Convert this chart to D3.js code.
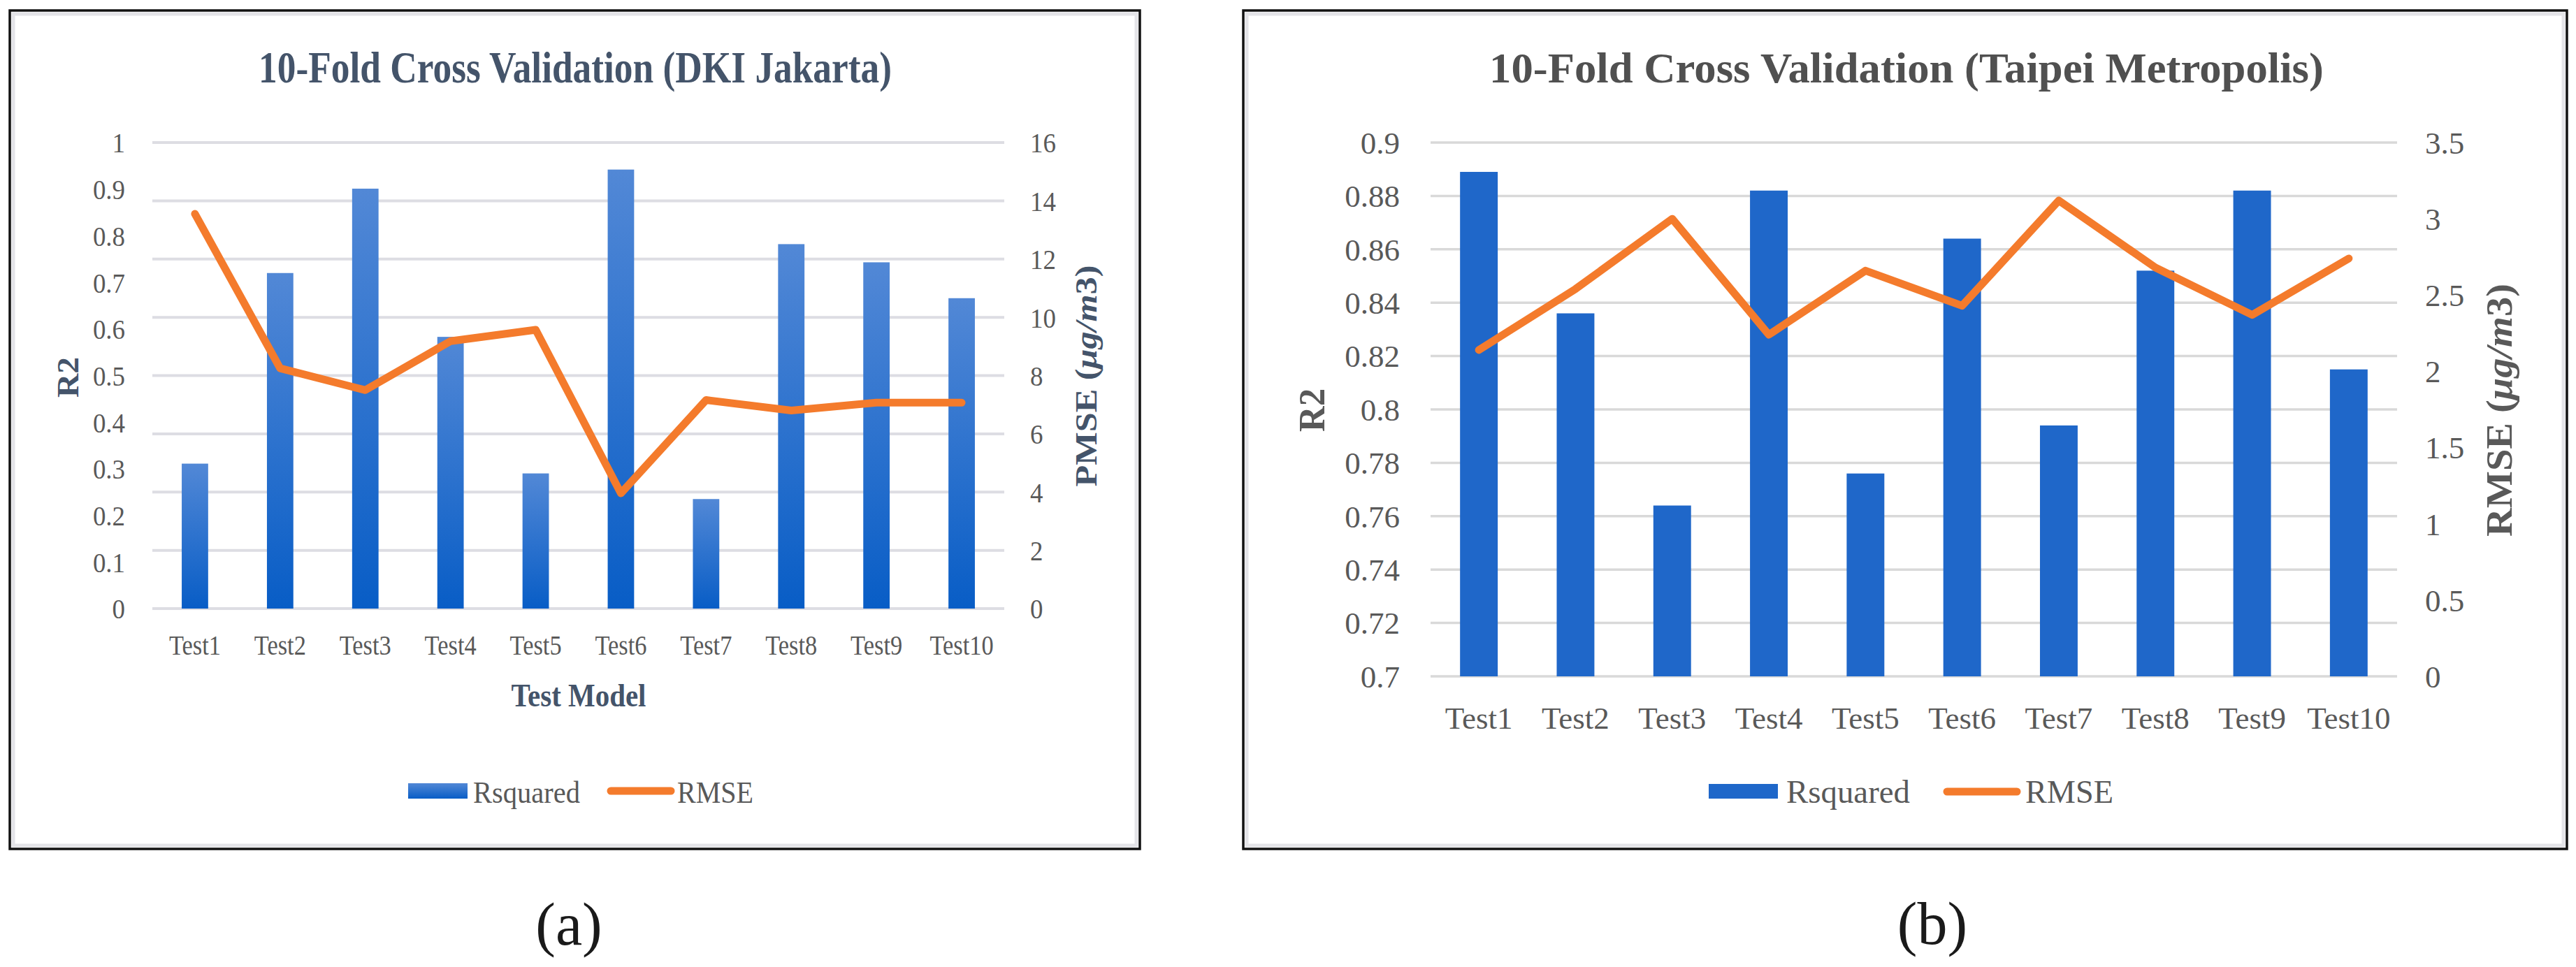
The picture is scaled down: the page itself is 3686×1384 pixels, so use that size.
<!DOCTYPE html>
<html>
<head>
<meta charset="utf-8">
<script src="https://cdn.jsdelivr.net/npm/d3@7"></script>
<style>
  body { margin: 0; background: #fff; }
  text { font-family: "Liberation Serif", "Times New Roman", serif; }
</style>
</head>
<body>
<script>
// ---- data ----
const categories = ['Test1','Test2','Test3','Test4','Test5','Test6','Test7','Test8','Test9','Test10'];

const jakartaR2   = [0.311, 0.720, 0.901, 0.583, 0.290, 0.942, 0.235, 0.782, 0.743, 0.666];
const jakartaRmse = [13.55, 8.25, 7.50, 9.18, 9.57, 3.96, 7.16, 6.80, 7.07, 7.07];
const jakartaR2Ticks   = [0, 0.1, 0.2, 0.3, 0.4, 0.5, 0.6, 0.7, 0.8, 0.9, 1];
const jakartaR2Labels  = ['0','0.1','0.2','0.3','0.4','0.5','0.6','0.7','0.8','0.9','1'];
const jakartaRmseTicks  = [0, 2, 4, 6, 8, 10, 12, 14, 16];
const jakartaRmseLabels = ['0','2','4','6','8','10','12','14','16'];

const taipeiR2   = [0.889, 0.836, 0.764, 0.882, 0.776, 0.864, 0.794, 0.852, 0.882, 0.815];
const taipeiRmse = [2.14, 2.54, 3.00, 2.24, 2.66, 2.43, 3.12, 2.68, 2.37, 2.74];
const taipeiR2Ticks   = [0.7, 0.72, 0.74, 0.76, 0.78, 0.8, 0.82, 0.84, 0.86, 0.88, 0.9];
const taipeiR2Labels  = ['0.7','0.72','0.74','0.76','0.78','0.8','0.82','0.84','0.86','0.88','0.9'];
const taipeiRmseTicks  = [0, 0.5, 1, 1.5, 2, 2.5, 3, 3.5];
const taipeiRmseLabels = ['0','0.5','1','1.5','2','2.5','3','3.5'];

const W = 3686, H = 1384;
const ORANGE = '#f47b2c';

const svg = d3.select('body').append('svg')
    .attr('width', W).attr('height', H)
    .attr('viewBox', `0 0 ${W} ${H}`);

const defs = svg.append('defs');
const grad = defs.append('linearGradient')
    .attr('id', 'barGrad').attr('x1', 0).attr('y1', 0).attr('x2', 0).attr('y2', 1);
grad.append('stop').attr('offset', '0%').attr('stop-color', '#5288d6');
grad.append('stop').attr('offset', '100%').attr('stop-color', '#085dc6');

// place a text and squeeze it horizontally (sx) or to a target length
function place(t, x, y, rot, sx, fitLen) {
    if (fitLen) {
        const len = t.node().getComputedTextLength();
        sx = fitLen / len;
    }
    t.attr('transform', `translate(${x},${y}) rotate(${rot}) scale(${sx || 1},1)`);
    return t;
}

function drawChart(cfg) {
    const g = svg.append('g');

    // frame: light inner border + black outer border
    const [fx0, fy0, fx1, fy1] = cfg.frame;
    g.append('rect').attr('x', fx0 + 5).attr('y', fy0 + 5)
        .attr('width', fx1 - fx0 - 10).attr('height', fy1 - fy0 - 10)
        .attr('fill', '#fff').attr('stroke', '#e4e4e8').attr('stroke-width', 5);
    g.append('rect').attr('x', fx0).attr('y', fy0)
        .attr('width', fx1 - fx0).attr('height', fy1 - fy0)
        .attr('fill', 'none').attr('stroke', '#111').attr('stroke-width', 3.5);

    const x = d3.scaleBand().domain(categories).range([cfg.px0, cfg.px1]);
    const yL = d3.scaleLinear().domain(cfg.leftDomain).range([cfg.py1, cfg.py0]);
    const yR = d3.scaleLinear().domain(cfg.rightDomain).range([cfg.py1, cfg.py0]);

    // gridlines
    const gridScale = cfg.gridOn === 'right' ? yR : yL;
    const gridTicks = cfg.gridOn === 'right' ? cfg.rightTicks : cfg.leftTicks;
    g.selectAll('.grid').data(gridTicks).enter().append('line')
        .attr('x1', cfg.px0).attr('x2', cfg.px1)
        .attr('y1', d => gridScale(d)).attr('y2', d => gridScale(d))
        .attr('stroke', cfg.gridColor).attr('stroke-width', cfg.gridWidth);

    // bars
    const bw = x.step() * cfg.barFrac;
    g.selectAll('.bar').data(cfg.r2).enter().append('rect')
        .attr('x', (d, i) => x(categories[i]) + x.step() / 2 - bw / 2)
        .attr('y', d => yL(d))
        .attr('width', bw)
        .attr('height', d => yL(cfg.leftDomain[0]) - yL(d))
        .attr('fill', cfg.barFill);

    // RMSE line
    const line = d3.line()
        .x((d, i) => x(categories[i]) + x.step() / 2)
        .y(d => yR(d));
    g.append('path').datum(cfg.rmse)
        .attr('d', line).attr('fill', 'none')
        .attr('stroke', ORANGE).attr('stroke-width', cfg.lineWidth)
        .attr('stroke-linejoin', 'round').attr('stroke-linecap', 'round');

    // left axis
    const axL = g.append('g').attr('transform', `translate(${cfg.leftLabelX},0)`)
        .call(d3.axisLeft(yL).tickValues(cfg.leftTicks).tickSize(0)
            .tickFormat((d, i) => cfg.leftLabels[i]));
    axL.select('.domain').remove();
    axL.selectAll('text').each(function () {
        const t = d3.select(this);
        t.attr('x', null).attr('dy', '0.34em')
            .attr('font-size', cfg.tickFont).attr('fill', '#595959')
            .attr('font-family', '"Liberation Serif", serif')
            .attr('text-anchor', 'end')
            .attr('transform', `scale(${cfg.tickSx},1)`);
    });

    // right axis
    const axR = g.append('g').attr('transform', `translate(${cfg.rightLabelX},0)`)
        .call(d3.axisRight(yR).tickValues(cfg.rightTicks).tickSize(0)
            .tickFormat((d, i) => cfg.rightLabels[i]));
    axR.select('.domain').remove();
    axR.selectAll('text').each(function () {
        const t = d3.select(this);
        t.attr('x', null).attr('dy', '0.34em')
            .attr('font-size', cfg.tickFont).attr('fill', '#595959')
            .attr('font-family', '"Liberation Serif", serif')
            .attr('text-anchor', 'start')
            .attr('transform', `scale(${cfg.tickSx},1)`);
    });

    // category axis
    const axB = g.append('g').attr('transform', `translate(0,${cfg.xLabelY})`)
        .call(d3.axisBottom(x).tickSize(0));
    axB.select('.domain').remove();
    axB.selectAll('text').each(function () {
        d3.select(this).attr('y', null).attr('dy', '0.34em')
            .attr('font-size', cfg.xFont).attr('fill', '#595959')
            .attr('font-family', '"Liberation Serif", serif')
            .attr('transform', `scale(${cfg.xSx},1)`);
    });

    // title
    const title = g.append('text').text(cfg.title)
        .attr('text-anchor', 'middle').attr('dy', '0.33em')
        .attr('font-size', cfg.titleFont).attr('font-weight', 'bold')
        .attr('fill', cfg.titleColor);
    place(title, cfg.titleX, cfg.titleY, 0, 1, cfg.titleLen);

    // axis titles
    const r2 = g.append('text').text('R2')
        .attr('text-anchor', 'middle').attr('dy', '0.33em')
        .attr('font-size', cfg.axTitleFont).attr('font-weight', 'bold')
        .attr('fill', cfg.axTitleColor);
    place(r2, cfg.r2X, cfg.r2Y, -90, 1, cfg.r2Len);

    const rt = g.append('text')
        .attr('text-anchor', 'middle').attr('dy', '0.33em')
        .attr('font-size', cfg.axTitleFont).attr('font-weight', 'bold')
        .attr('fill', cfg.axTitleColor);
    rt.append('tspan').text(cfg.rightTitle + ' (');
    rt.append('tspan').text('\u03bcg/m').attr('font-style', 'italic');
    rt.append('tspan').text('3)');
    place(rt, cfg.rtX, cfg.rtY, -90, 1, cfg.rtLen);

    if (cfg.xTitle) {
        const xt = g.append('text').text(cfg.xTitle)
            .attr('text-anchor', 'middle').attr('dy', '0.33em')
            .attr('font-size', cfg.xTitleFont).attr('font-weight', 'bold')
            .attr('fill', cfg.axTitleColor);
        place(xt, cfg.xTitleX, cfg.xTitleY, 0, 1, cfg.xTitleLen);
    }

    // legend
    const lg = cfg.legend;
    g.append('rect').attr('x', lg.boxX0).attr('y', lg.boxY0)
        .attr('width', lg.boxX1 - lg.boxX0).attr('height', lg.boxY1 - lg.boxY0)
        .attr('fill', cfg.barFill);
    const t1 = g.append('text').text('Rsquared').attr('dy', '0.33em')
        .attr('font-size', lg.font).attr('fill', '#595959');
    place(t1, lg.t1X, lg.textY, 0, 1, lg.t1Len);
    g.append('line').attr('x1', lg.lineX0).attr('x2', lg.lineX1)
        .attr('y1', lg.lineY).attr('y2', lg.lineY)
        .attr('stroke', ORANGE).attr('stroke-width', cfg.lineWidth)
        .attr('stroke-linecap', 'round');
    const t2 = g.append('text').text('RMSE').attr('dy', '0.33em')
        .attr('font-size', lg.font).attr('fill', '#595959');
    place(t2, lg.t2X, lg.textY, 0, 1, lg.t2Len);

    // panel letter
    svg.append('text').text(cfg.letter)
        .attr('x', cfg.letterX).attr('y', cfg.letterY).attr('dy', '0.3em')
        .attr('text-anchor', 'middle').attr('font-size', 86).attr('fill', '#1a1a1a');
}

drawChart({
    frame: [14, 15, 1631, 1215],
    px0: 218, px1: 1437, py0: 204, py1: 871,
    leftDomain: [0, 1], rightDomain: [0, 16],
    leftTicks: jakartaR2Ticks, leftLabels: jakartaR2Labels,
    rightTicks: jakartaRmseTicks, rightLabels: jakartaRmseLabels,
    gridOn: 'right', gridColor: '#dddde3', gridWidth: 4,
    r2: jakartaR2, rmse: jakartaRmse,
    barFrac: 0.31, barFill: 'url(#barGrad)', lineWidth: 11,
    leftLabelX: 179, rightLabelX: 1474, tickFont: 41, tickSx: 0.9,
    xLabelY: 923, xFont: 41, xSx: 0.84,
    title: '10-Fold Cross Validation (DKI Jakarta)', titleX: 823, titleY: 97,
    titleFont: 63, titleLen: 906, titleColor: '#44546a',
    axTitleFont: 44, axTitleColor: '#44546a',
    r2X: 97, r2Y: 540, r2Len: 58,
    rightTitle: 'PMSE', rtX: 1554, rtY: 538, rtLen: 317,
    xTitle: 'Test Model', xTitleX: 828, xTitleY: 996, xTitleFont: 46, xTitleLen: 193,
    legend: { boxX0: 584, boxX1: 669, boxY0: 1121, boxY1: 1143,
              t1X: 677, t1Len: 153, textY: 1134, font: 44,
              lineX0: 874, lineX1: 960, lineY: 1132, t2X: 969, t2Len: 109 },
    letter: '(a)', letterX: 814, letterY: 1326
});

drawChart({
    frame: [1779, 15, 3673, 1215],
    px0: 2047, px1: 3430, py0: 204, py1: 968,
    leftDomain: [0.7, 0.9], rightDomain: [0, 3.5],
    leftTicks: taipeiR2Ticks, leftLabels: taipeiR2Labels,
    rightTicks: taipeiRmseTicks, rightLabels: taipeiRmseLabels,
    gridOn: 'left', gridColor: '#d9d9d9', gridWidth: 3.5,
    r2: taipeiR2, rmse: taipeiRmse,
    barFrac: 0.39, barFill: '#1f67c9', lineWidth: 11,
    leftLabelX: 2003, rightLabelX: 3470, tickFont: 45, tickSx: 1,
    xLabelY: 1028, xFont: 45, xSx: 1,
    title: '10-Fold Cross Validation (Taipei Metropolis)', titleX: 2728, titleY: 98,
    titleFont: 62, titleLen: 1194, titleColor: '#505050',
    axTitleFont: 52, axTitleColor: '#595959',
    r2X: 1878, r2Y: 587, r2Len: 62,
    rightTitle: 'RMSE', rtX: 3577, rtY: 587, rtLen: 362,
    xTitle: null,
    legend: { boxX0: 2445, boxX1: 2544, boxY0: 1122, boxY1: 1143,
              t1X: 2556, t1Len: 177, textY: 1134, font: 46,
              lineX0: 2786, lineX1: 2886, lineY: 1133, t2X: 2898, t2Len: 126 },
    letter: '(b)', letterX: 2765, letterY: 1325
});
</script>
</body>
</html>
